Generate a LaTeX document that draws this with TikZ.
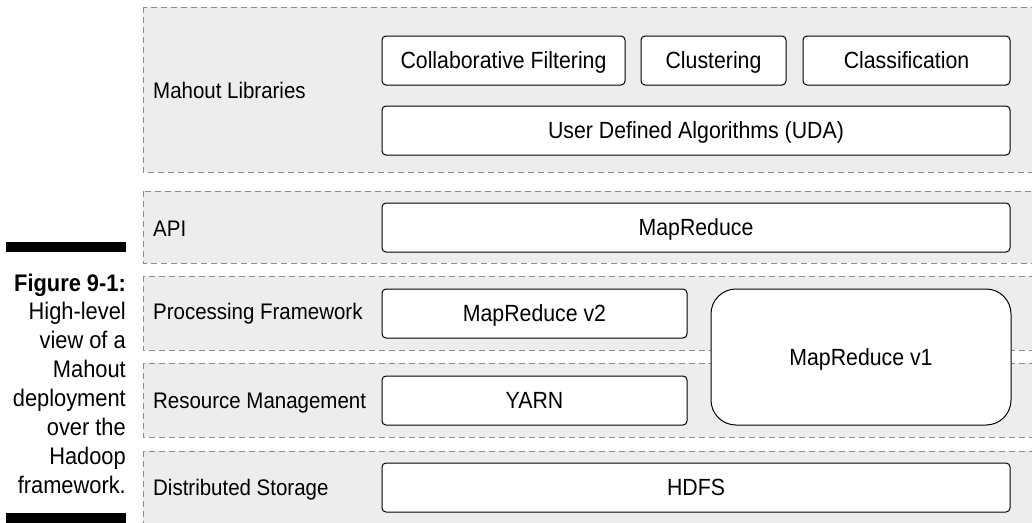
\documentclass[tikz,border=0pt]{standalone}
\usepackage{fontspec}
\setmainfont{Liberation Sans}
\newfontfamily\condfont{Liberation Sans}[FakeStretch=0.91]
\definecolor{layergray}{HTML}{EDEDED}
\definecolor{dashgray}{HTML}{8C8C8C}
\begin{document}
\begin{tikzpicture}[x=1pt,y=-1pt,
  layer/.style={draw=dashgray, fill=layergray, line width=1pt, dash pattern=on 6pt off 4pt},
  box/.style={draw=black, fill=white, line width=1pt, rounded corners=4pt, inner sep=0pt,
    minimum height=49pt, text height=16.8pt, text depth=0pt, font=\condfont\fontsize{23.4}{28}\selectfont},
  lbl/.style={anchor=base west, inner sep=0pt, font=\condfont\fontsize{22.5}{27}\selectfont},
  captext/.style={anchor=base east, inner sep=0pt, font=\condfont\fontsize{24}{29}\selectfont}]
\useasboundingbox (0,0) rectangle (1032,522);
\clip (0,0) rectangle (1032,522);
% layers
\path[layer] (143,7) rectangle (1045,172);
\path[layer] (143,191) rectangle (1045,263);
\path[layer] (143,276) rectangle (1045,350);
\path[layer] (143,363) rectangle (1045,437);
\path[layer] (143,451) rectangle (1045,535);
% layer labels
\node[lbl] (l1) at (153,98) {Mahout Libraries};
\node[lbl] (l2) at (153,236) {API};
\node[lbl] (l3) at (153,319) {Processing Framework};
\node[lbl] (l4) at (153,408) {Resource Management};
\node[lbl] (l5) at (153,495) {Distributed Storage};
% boxes
\node[box, minimum width=243pt] (cf) at (503.5,60.5) {Collaborative Filtering};
\node[box, minimum width=145pt] (clu) at (713.5,60.5) {Clustering};
\node[box, minimum width=207pt] (cla) at (906.5,60.5) {Classification};
\node[box, minimum width=628pt] (uda) at (696,130.5) {User Defined Algorithms (UDA)};
\node[box, minimum width=628pt] (api) at (696,227.5) {MapReduce};
\node[box, minimum width=305pt] (mr2) at (534.5,313.5) {MapReduce v2};
\node[box, minimum width=300pt, minimum height=136pt, rounded corners=25pt] (mr1) at (861,357) {MapReduce v1};
\node[box, minimum width=305pt] (yarn) at (534.5,400.5) {YARN};
\node[box, minimum width=628pt] (hdfs) at (696,487.5) {HDFS};
% caption
\fill (6,242) rectangle (126,252);
\fill (6,513) rectangle (126,526);
\node[captext] (c1) at (126,291) {\textbf{Figure 9-1:}};
\node[captext] (c2) at (126,319) {High-level};
\node[captext] (c3) at (126,348) {view of a};
\node[captext] (c4) at (126,377) {Mahout};
\node[captext] (c5) at (126,406) {deployment};
\node[captext] (c6) at (126,435) {over the};
\node[captext] (c7) at (126,464) {Hadoop};
\node[captext] (c8) at (126,493) {framework.};
\end{tikzpicture}
\end{document}
